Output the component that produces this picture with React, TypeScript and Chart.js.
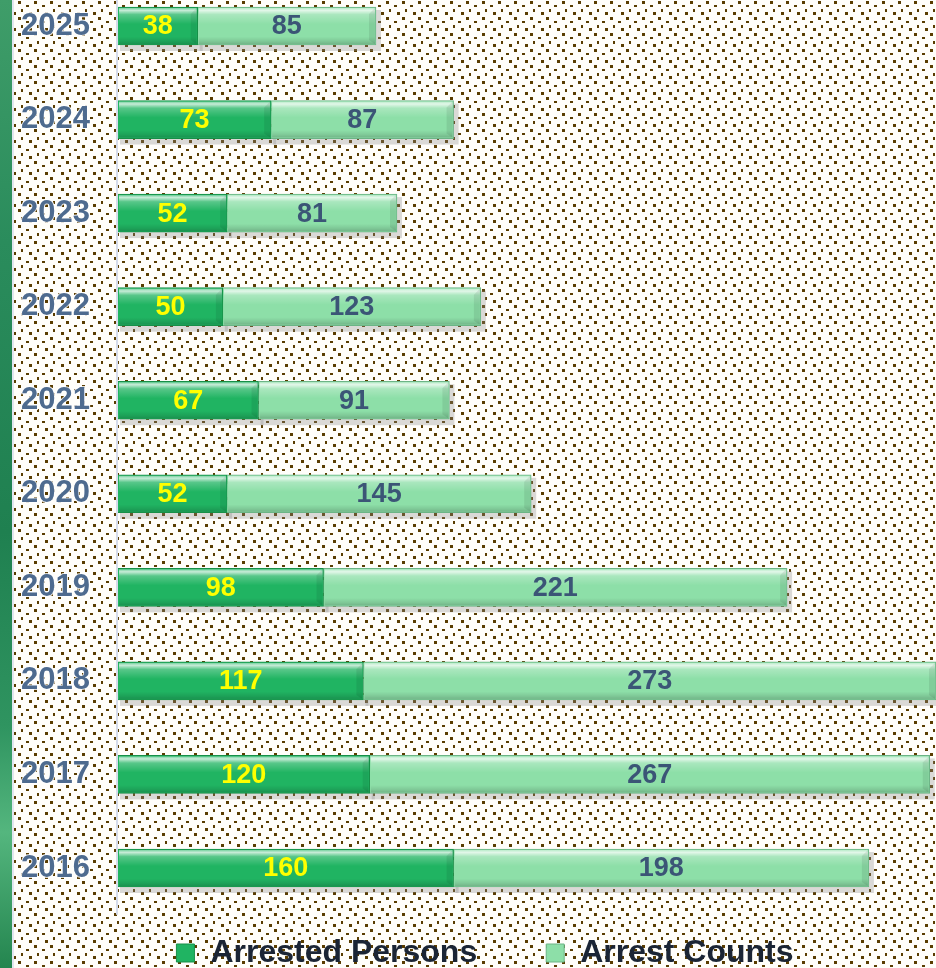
import { useEffect, useRef } from 'react';
import { Chart, registerables } from 'chart.js';

Chart.register(...registerables);

const years = ['2025', '2024', '2023', '2022', '2021', '2020', '2019', '2018', '2017', '2016'];
const arrestedPersons = [38, 73, 52, 50, 67, 52, 98, 117, 120, 160];
const arrestCounts = [85, 87, 81, 123, 91, 145, 221, 273, 267, 198];
const seriesLabels = ['Arrested Persons', 'Arrest Counts'];
const xMax = 390;

const FONT = 'Arial, "Liberation Sans", sans-serif';
const darkGreen = '#20b462';
const lightGreen = '#8ddfa8';
const labelColors = ['#ffff00', '#3b5576'];

function makeTile(): HTMLCanvasElement {
  const t = document.createElement('canvas');
  t.width = 16;
  t.height = 16;
  const c = t.getContext('2d')!;
  c.fillStyle = '#fffefa';
  c.fillRect(0, 0, 16, 16);
  c.fillStyle = '#5a3d00';
  const dots = [
    [2, 1, 3, 3],
    [10, 5, 3, 2],
    [5, 9, 2, 3],
    [13, 12, 3, 3],
  ];
  dots.forEach(([x, y, w, h]) => c.fillRect(x, y, w, h));
  return t;
}

const decorPlugin = {
  id: 'decor',
  beforeDraw(chart: any) {
    const { ctx, width, height, chartArea } = chart;
    ctx.save();
    const pat = ctx.createPattern(makeTile(), 'repeat');
    ctx.fillStyle = pat;
    ctx.fillRect(0, 0, width, height);
    // left green strip
    const g = ctx.createLinearGradient(0, 0, 0, 968);
    g.addColorStop(0, '#3f9d69');
    g.addColorStop(0.25, '#2a8c5c');
    g.addColorStop(0.55, '#1f8050');
    g.addColorStop(0.75, '#2f9460');
    g.addColorStop(0.86, '#54b67e');
    g.addColorStop(1, '#24854f');
    ctx.fillStyle = g;
    ctx.fillRect(0, 0, 12, height);
    ctx.fillStyle = '#e2e6f0';
    ctx.fillRect(12, 0, 2, height);
    // axis line
    const yScale = chart.scales.y;
    const step = yScale.getPixelForValue(1) - yScale.getPixelForValue(0);
    ctx.fillStyle = '#d6dcea';
    ctx.fillRect(chartArea.left - 2, 0, 2, chartArea.bottom + step / 2);
    ctx.restore();
  },
  beforeDatasetsDraw(chart: any) {
    const { ctx } = chart;
    ctx.save();
    ctx.fillStyle = 'rgba(140,140,140,0.32)';
    chart.data.datasets.forEach((_: any, di: number) => {
      chart.getDatasetMeta(di).data.forEach((el: any) => {
        const left = Math.min(el.x, el.base);
        const right = Math.max(el.x, el.base);
        const top = el.y - el.height / 2;
        ctx.fillRect(left + 2, top + 3, right - left + 3, el.height + 3);
      });
    });
    ctx.restore();
  },
  afterDatasetsDraw(chart: any) {
    const { ctx } = chart;
    ctx.save();
    chart.data.datasets.forEach((ds: any, di: number) => {
      chart.getDatasetMeta(di).data.forEach((el: any, i: number) => {
        const left = Math.min(el.x, el.base);
        const right = Math.max(el.x, el.base);
        const top = el.y - el.height / 2;
        const h = el.height;
        const gr = ctx.createLinearGradient(0, top, 0, top + h);
        gr.addColorStop(0, 'rgba(255,255,255,0.25)');
        gr.addColorStop(0.09, 'rgba(255,255,255,0.75)');
        gr.addColorStop(0.2, 'rgba(255,255,255,0.25)');
        gr.addColorStop(0.45, 'rgba(255,255,255,0.0)');
        gr.addColorStop(0.78, 'rgba(0,0,0,0.0)');
        gr.addColorStop(0.9, 'rgba(0,0,0,0.1)');
        gr.addColorStop(1, 'rgba(0,0,0,0.22)');
        ctx.fillStyle = gr;
        ctx.fillRect(left + 1, top + 1, right - left - 2, h - 2);
        // bevel at right end
        ctx.fillStyle = 'rgba(0,0,0,0.08)';
        ctx.beginPath();
        ctx.moveTo(right - 1, top + 1);
        ctx.lineTo(right - 7, top + 7);
        ctx.lineTo(right - 7, top + h - 5);
        ctx.lineTo(right - 1, top + h - 1);
        ctx.closePath();
        ctx.fill();
        // value label
        const v = ds.data[i];
        ctx.font = `bold 27px ${FONT}`;
        ctx.fillStyle = labelColors[di];
        ctx.textAlign = 'center';
        ctx.textBaseline = 'middle';
        ctx.fillText(String(v), (left + Math.min(right, 936)) / 2, el.y + 1);
      });
    });
    ctx.restore();
  },
};

export default function App() {
  const ref = useRef<HTMLCanvasElement | null>(null);
  useEffect(() => {
    if (!ref.current) return;
    const chart = new Chart(ref.current, {
      type: 'bar',
      data: {
        labels: years,
        datasets: [
          {
            label: seriesLabels[0],
            data: arrestedPersons,
            backgroundColor: darkGreen,
            borderColor: '#178f48',
            borderWidth: 1,
            barThickness: 38,
            clip: false as any,
          },
          {
            label: seriesLabels[1],
            data: arrestCounts,
            backgroundColor: lightGreen,
            borderColor: '#6cb486',
            borderWidth: 1,
            barThickness: 38,
            clip: false as any,
          },
        ],
      },
      options: {
        indexAxis: 'y',
        responsive: false,
        animation: false,
        layout: { padding: { top: 26, left: 14, right: -20, bottom: 0 } },
        scales: {
          x: { stacked: true, display: false, min: 0, max: xMax },
          y: {
            stacked: true,
            offset: false,
            grid: {
              display: true,
              drawTicks: true,
              tickLength: 28,
              drawOnChartArea: false,
              color: 'rgba(0,0,0,0)',
            },
            border: { display: false },
            ticks: {
              padding: 0,
              color: '#4e6b8f',
              font: { size: 31, weight: 'bold', family: FONT },
              textStrokeColor: 'rgba(255,255,255,0.85)',
              textStrokeWidth: 2,
            } as any,
            afterFit: (scale: any) => {
              scale.width = 104;
            },
          },
        },
        plugins: {
          legend: {
            position: 'bottom',
            labels: {
              boxWidth: 18,
              boxHeight: 18,
              padding: 69,
              color: '#1b2535',
              font: { size: 32, weight: 'bold', family: FONT },
            },
          },
          tooltip: { enabled: false },
        },
      },
      plugins: [decorPlugin],
    });
    return () => chart.destroy();
  }, []);
  return (
    <div style={{ position: 'fixed', left: 0, top: 0, width: 936, height: 968, overflow: 'hidden' }}>
      <canvas ref={ref} width={936} height={979} style={{ display: 'block' }} />
    </div>
  );
}
